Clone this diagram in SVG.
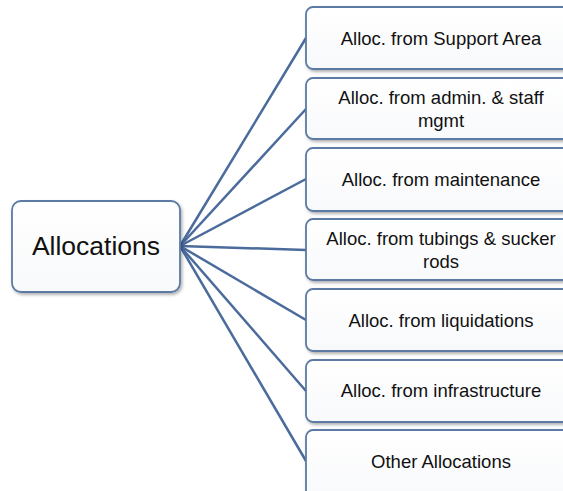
<svg xmlns="http://www.w3.org/2000/svg" width="563" height="491" viewBox="0 0 563 491">
<defs>
<linearGradient id="g" x1="0" y1="0" x2="0" y2="1"><stop offset="0" stop-color="#ffffff"/><stop offset="1" stop-color="#f8f9fb"/></linearGradient>
<filter id="sh" x="-10%" y="-10%" width="130%" height="140%"><feDropShadow dx="1.5" dy="2" stdDeviation="1.5" flood-color="#000" flood-opacity="0.3"/></filter>
</defs>
<style>
.box{fill:url(#g);stroke:#5b7aa3;stroke-width:1.8;filter:url(#sh)}
.t{font-family:"Liberation Sans",Arial,sans-serif;font-size:18.5px;fill:#111;text-anchor:middle}
.c{stroke:#4a6b9b;stroke-width:2.5;fill:none}
</style>
<rect width="563" height="491" fill="#fff"/>
<g id="connectors">
<line class="c" x1="180" y1="246" x2="306" y2="38"/>
<line class="c" x1="180" y1="246" x2="306" y2="109"/>
<line class="c" x1="180" y1="246" x2="306" y2="179"/>
<line class="c" x1="180" y1="246" x2="306" y2="250"/>
<line class="c" x1="180" y1="246" x2="306" y2="320"/>
<line class="c" x1="180" y1="246" x2="306" y2="391"/>
<line class="c" x1="180" y1="246" x2="306" y2="461"/>
</g>
<g id="root">
<rect class="box" x="12" y="201" width="168" height="91" rx="9"/>
<text class="t" x="96" y="255" style="font-size:26.5px">Allocations</text>
</g>
<g id="n1"><rect class="box" x="306" y="7" width="272" height="62" rx="7"/><text class="t" x="441" y="45">Alloc. from Support Area</text></g>
<g id="n2"><rect class="box" x="306" y="78" width="272" height="61" rx="7"/><text class="t" x="441" y="104">Alloc. from admin. &amp; staff</text><text class="t" x="441" y="127">mgmt</text></g>
<g id="n3"><rect class="box" x="306" y="148" width="272" height="63" rx="7"/><text class="t" x="441" y="186">Alloc. from maintenance</text></g>
<g id="n4"><rect class="box" x="306" y="219" width="272" height="61" rx="7"/><text class="t" x="441" y="245">Alloc. from tubings &amp; sucker</text><text class="t" x="441" y="268">rods</text></g>
<g id="n5"><rect class="box" x="306" y="289" width="272" height="62" rx="7"/><text class="t" x="441" y="327">Alloc. from liquidations</text></g>
<g id="n6"><rect class="box" x="306" y="360" width="272" height="62" rx="7"/><text class="t" x="441" y="397">Alloc. from infrastructure</text></g>
<g id="n7"><rect class="box" x="306" y="430" width="272" height="70" rx="7"/><text class="t" x="441" y="468">Other Allocations</text></g>
</svg>
